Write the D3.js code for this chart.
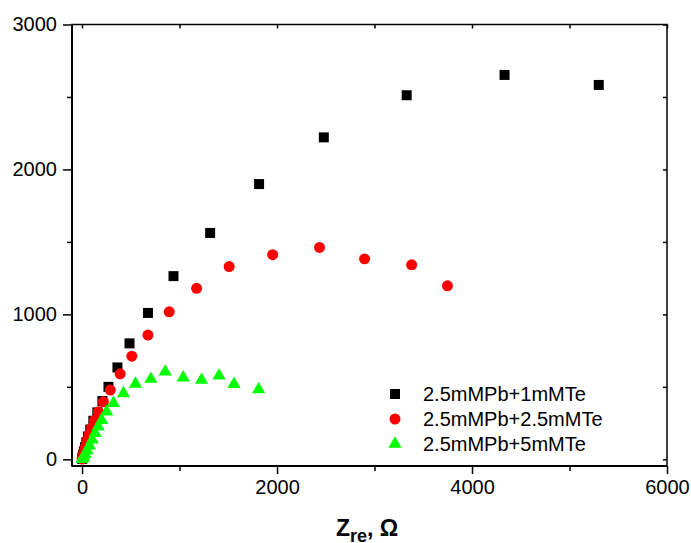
<!DOCTYPE html>
<html>
<head>
<meta charset="utf-8">
<script src="https://cdn.jsdelivr.net/npm/d3@7"></script>
<style>
  body { margin: 0; background: #fff; }
  text { font-family: "Liberation Sans", Arial, sans-serif; }
  .tick text { font-size: 20px; fill: #000; }
  .tick line { stroke: #000; stroke-width: 1.5; }
</style>
</head>
<body>
<div id="chart"></div>
<script>
// series: [Zre, -Zim]
const seriesNames = ['2.5mMPb+1mMTe', '2.5mMPb+2.5mMTe', '2.5mMPb+5mMTe'];
const colors = ['#000000', '#ff0000', '#00ff00'];

const pb1Te = [
  [5300, 2583], [4334, 2652], [3330, 2512], [2480, 2221], [1816, 1899], [1314, 1562],
  [938, 1264], [676, 1010], [487, 800], [363, 634], [271, 500], [209, 402],
  [157, 324], [116, 266], [84, 205], [62, 158], [44, 118], [30, 84],
  [19, 55], [11, 32], [5, 15], [1, 3]
];
const pb25Te = [
  [3748, 1197], [3381, 1342], [2898, 1383], [2436, 1462], [1955, 1412], [1509, 1330],
  [1175, 1180], [894, 1018], [676, 857], [511, 712], [391, 590], [290, 478],
  [219, 397], [168, 328], [128, 270], [98, 218], [74, 172], [55, 132],
  [40, 98], [28, 68], [18, 44], [10, 24], [5, 10], [1, 2]
];
const pb5Te = [
  [1812, 483], [1559, 519], [1405, 577], [1226, 547], [1038, 563], [853, 604],
  [706, 554], [548, 520], [425, 455], [322, 388], [253, 328], [202, 271],
  [165, 225], [134, 180], [104, 135], [76, 95], [52, 62], [32, 36],
  [17, 18], [6, 6], [1, 1]
];

const xMajor = [0, 2000, 4000, 6000];
const xMinor = [1000, 3000, 5000];
const yMajor = [0, 1000, 2000, 3000];
const yMinor = [500, 1500, 2500];

const width = 691, height = 543;
const plotL = 72, plotR = 667, plotT = 24.5, plotB = 466;

let svg = d3.select('#chart').append('svg')
    .attr('width', width)
    .attr('height', height);

let x = d3.scaleLinear().domain([-103, 6000]).range([plotL, plotR]);
let y = d3.scaleLinear().domain([-46, 3000]).range([plotB, plotT]);

// axes: major + minor outside on bottom/left, small inward ticks on top/right
function axisGroup(axis, tx, ty) {
    let g = svg.append('g').attr('transform', `translate(${tx},${ty})`).call(axis);
    g.select('.domain').remove();
    return g;
}

axisGroup(d3.axisBottom(x).tickValues(xMajor).tickSize(8).tickPadding(6).tickFormat(d3.format('d')), 0, plotB);
axisGroup(d3.axisBottom(x).tickValues(xMinor).tickSize(5).tickFormat(''), 0, plotB);
axisGroup(d3.axisLeft(y).tickValues(yMajor).tickSize(9).tickPadding(6).tickFormat(d3.format('d')), plotL, 0);
axisGroup(d3.axisLeft(y).tickValues(yMinor).tickSize(5).tickFormat(''), plotL, 0);
axisGroup(d3.axisBottom(x).tickValues(xMajor.concat(xMinor)).tickSize(4).tickFormat(''), 0, plotT);
axisGroup(d3.axisLeft(y).tickValues(yMajor.concat(yMinor)).tickSize(4).tickFormat(''), plotR, 0);

svg.selectAll('.tick text').attr('font-size', 20);

// frame
svg.append('rect')
    .attr('x', plotL).attr('y', plotT)
    .attr('width', plotR - plotL).attr('height', plotB - plotT)
    .attr('fill', 'none').attr('stroke', '#000').attr('stroke-width', 1.5);
svg.append('line')
    .attr('x1', plotL).attr('x2', plotL).attr('y1', plotT).attr('y2', plotB)
    .attr('stroke', '#000').attr('stroke-width', 2);
svg.append('line')
    .attr('x1', plotL).attr('x2', plotR).attr('y1', plotB).attr('y2', plotB)
    .attr('stroke', '#000').attr('stroke-width', 2);

const shapes = [
    d3.symbol().type(d3.symbolSquare).size(100),
    d3.symbol().type(d3.symbolCircle).size(95),
    d3.symbol().type(d3.symbolTriangle).size(76)
];
const allSeries = [pb1Te, pb25Te, pb5Te];

allSeries.forEach((data, i) => {
    svg.append('g').selectAll('path')
        .data(data)
        .join('path')
        .attr('transform', d => `translate(${x(d[0])},${y(d[1])})`)
        .attr('d', shapes[i])
        .attr('fill', colors[i]);
});

// legend
let legend = svg.append('g');
seriesNames.forEach((name, i) => {
    let ly = 394 + i * 25;
    legend.append('path')
        .attr('transform', `translate(395,${ly})`)
        .attr('d', shapes[i])
        .attr('fill', colors[i]);
    legend.append('text')
        .attr('x', 423).attr('y', ly)
        .attr('dy', '0.35em')
        .attr('font-size', 20)
        .text(name);
});

// x axis title
let xt = svg.append('text')
    .attr('x', 336).attr('y', 536)
    .attr('font-size', 23).attr('font-weight', 'bold');
xt.append('tspan').text('Z');
xt.append('tspan').attr('dy', 6).attr('font-size', 18).text('re');
xt.append('tspan').attr('dy', -6).text(', Ω');
</script>
</body>
</html>
